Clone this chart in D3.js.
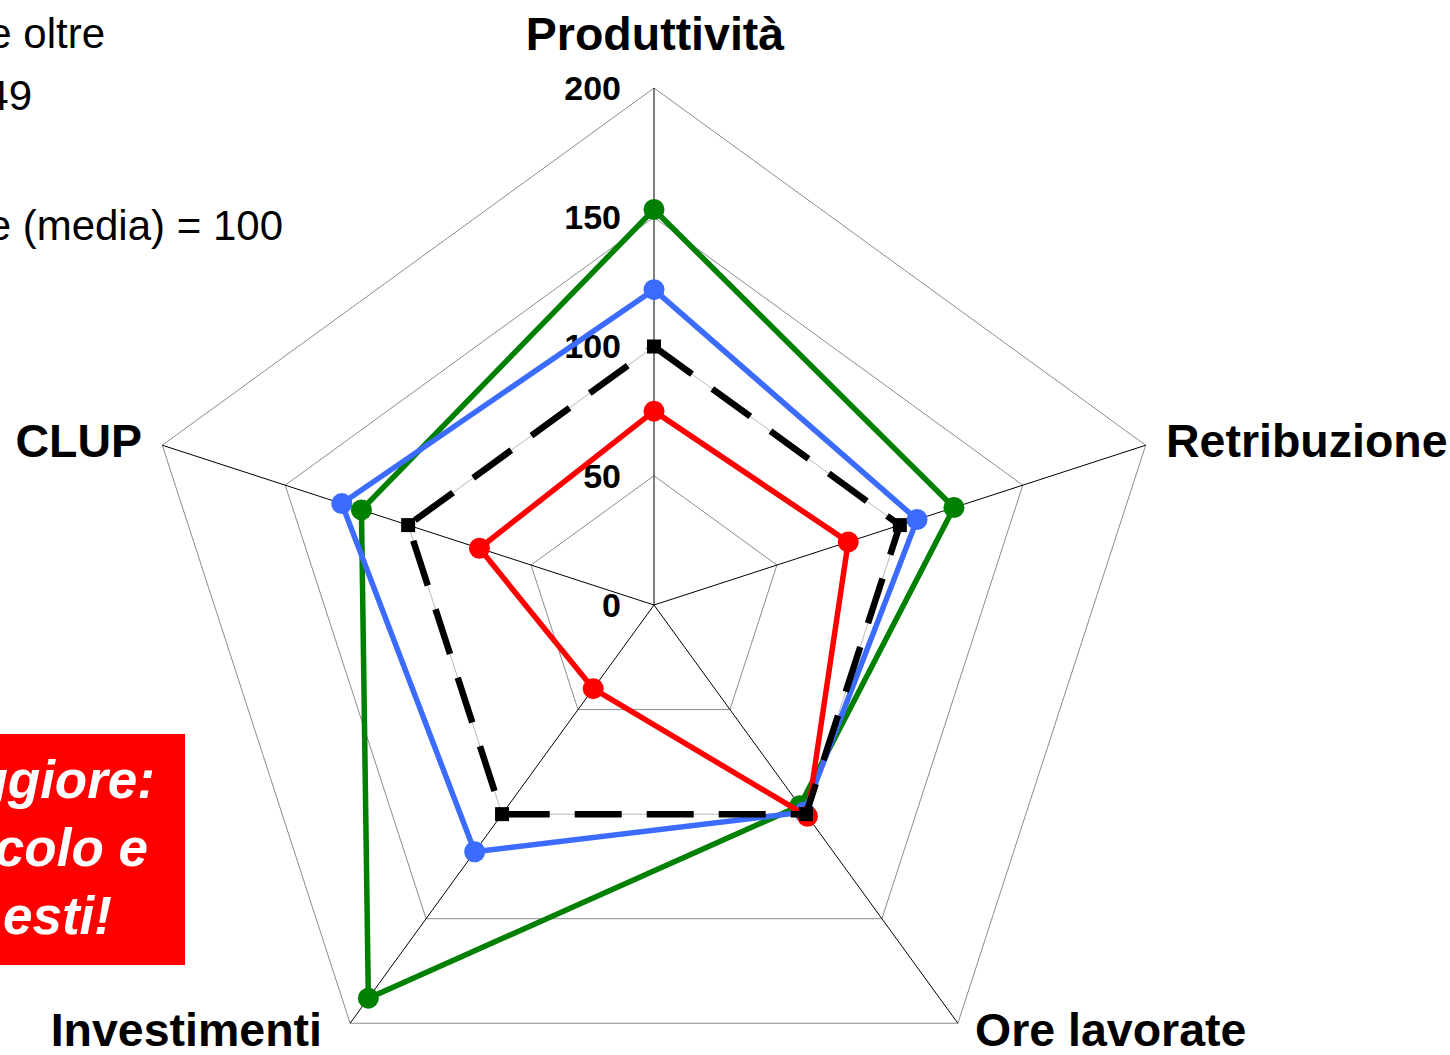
<!DOCTYPE html>
<html>
<head>
<meta charset="utf-8">
<script src="https://cdn.jsdelivr.net/npm/d3@7"></script>
<style>
  html, body { margin: 0; padding: 0; background: #fff; }
  svg { display: block; font-family: "Liberation Sans", Arial, sans-serif; }
</style>
</head>
<body>
<svg id="chart" width="1450" height="1055"></svg>
<script>
// ---- data ----
const axes = ["Produttività", "Retribuzione", "Ore lavorate", "Investimenti", "CLUP"];
const tickValues = [0, 50, 100, 150, 200];
const mediaValues = [100, 100, 100, 100, 100];   // black dashed
const greenValues = [153, 122, 96, 188, 119];
const blueValues  = [122, 107, 99, 118, 127];
const redValues   = [75, 79, 101, 40, 71];
const noteLines = ["e oltre", "49", "e (media) = 100"];
const boxLines = ["ggiore:", "colo e", "esti!"];

// ---- layout ----
const svg = d3.select("#chart");
const cx = 654, cy = 605, R = 517;
const r = d3.scaleLinear().domain([0, 200]).range([0, R]);
const angle = d3.scalePoint().domain(axes).range([0, 2 * Math.PI * (axes.length - 1) / axes.length]);
const pt = (a, v) => [cx + r(v) * Math.sin(angle(a)), cy - r(v) * Math.cos(angle(a))];

// rings
const ringLine = d3.line();
tickValues.filter(t => t > 0).forEach(t => {
  const pts = axes.map(a => pt(a, t));
  svg.append("path")
    .attr("d", ringLine(pts) + "Z")
    .attr("fill", "none")
    .attr("stroke", t === 100 ? "#b8b8b8" : "#8c8c8c")
    .attr("stroke-width", 1);
});

// spokes
axes.forEach(a => {
  const [x, y] = pt(a, 200);
  svg.append("line").attr("x1", cx).attr("y1", cy).attr("x2", x).attr("y2", y)
    .attr("stroke", "#000").attr("stroke-width", 1);
});

// tick labels
svg.append("g").selectAll("text").data(tickValues).join("text")
  .attr("x", cx - 33)
  .attr("y", d => cy - r(d))
  .attr("dy", "0.35em")
  .attr("text-anchor", "end")
  .attr("font-size", 34)
  .attr("font-weight", "bold")
  .text(d => d);

// axis labels
const labelPos = {
  "Produttività": {x: 655, y: 50, anchor: "middle"},
  "Retribuzione": {x: 1166, y: 457, anchor: "start"},
  "Ore lavorate": {x: 975, y: 1046, anchor: "start"},
  "Investimenti": {x: 322, y: 1046, anchor: "end"},
  "CLUP": {x: 142, y: 457, anchor: "end"}
};
svg.append("g").selectAll("text").data(axes).join("text")
  .attr("x", d => labelPos[d].x)
  .attr("y", d => labelPos[d].y)
  .attr("text-anchor", d => labelPos[d].anchor)
  .attr("font-size", 46.5)
  .attr("font-weight", "bold")
  .text(d => d);

// series
const seriesLine = d3.line();
function drawSeries(values, color, opts) {
  const pts = axes.map((a, i) => pt(a, values[i]));
  const p = svg.append("path")
    .attr("d", seriesLine(pts) + "Z")
    .attr("fill", "none")
    .attr("stroke", color)
    .attr("stroke-width", opts.width)
    .attr("stroke-linejoin", "miter");
  if (opts.dash) p.attr("stroke-dasharray", opts.dash);
  if (opts.square) {
    svg.append("g").selectAll("rect").data(pts).join("rect")
      .attr("x", d => d[0] - 7).attr("y", d => d[1] - 7)
      .attr("width", 14).attr("height", 14).attr("fill", color);
  } else {
    svg.append("g").selectAll("circle").data(pts).join("circle")
      .attr("cx", d => d[0]).attr("cy", d => d[1]).attr("r", 10.5).attr("fill", color);
  }
}
drawSeries(greenValues, "#008000", {width: 5.5});
drawSeries(blueValues, "#3c6cff", {width: 5.5});
drawSeries(redValues, "#ff0000", {width: 5.5});
drawSeries(mediaValues, "#000000", {width: 6.5, dash: "47,25", square: true});

// top-left note (cut at left edge, as in the reference)
const noteY = [48, 110, 240];
const noteX = [105, 32, 283];
svg.append("g").selectAll("text").data(noteLines).join("text")
  .attr("x", (d, i) => noteX[i])
  .attr("y", (d, i) => noteY[i])
  .attr("text-anchor", "end")
  .attr("font-size", 42)
  .attr("fill", "#000")
  .text(d => d);

// red box
svg.append("rect").attr("x", -10).attr("y", 734).attr("width", 195).attr("height", 231).attr("fill", "#ff0000");
const boxY = [798, 866, 934];
const boxX = [155, 148, 112];
svg.append("g").selectAll("text").data(boxLines).join("text")
  .attr("x", (d, i) => boxX[i])
  .attr("y", (d, i) => boxY[i])
  .attr("text-anchor", "end")
  .attr("font-size", 53)
  .attr("font-weight", "bold")
  .attr("font-style", "italic")
  .attr("fill", "#fff")
  .text(d => d);
</script>
</body>
</html>
